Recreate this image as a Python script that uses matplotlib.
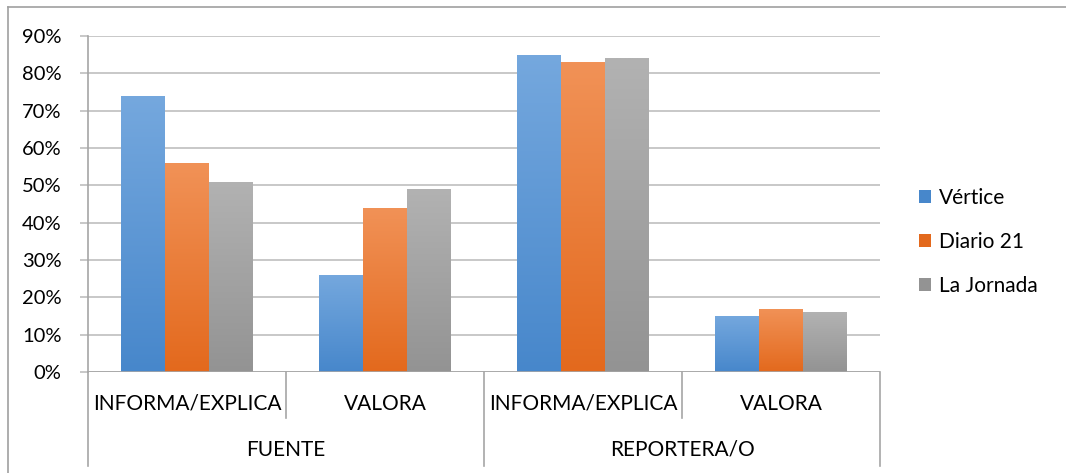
import matplotlib
matplotlib.use('Agg')
import matplotlib.pyplot as plt
import numpy as np
from matplotlib.colors import LinearSegmentedColormap
from matplotlib.patches import Rectangle
from matplotlib.lines import Line2D

# data
subcats = ['INFORMA/EXPLICA', 'VALORA', 'INFORMA/EXPLICA', 'VALORA']
groups = ['FUENTE', 'REPORTERA/O']
series = ['Vértice', 'Diario 21', 'La Jornada']
vertice = [0.74, 0.26, 0.85, 0.15]
diario21 = [0.56, 0.44, 0.83, 0.17]
jornada = [0.51, 0.49, 0.84, 0.16]
yticks = [0, 0.1, 0.2, 0.3, 0.4, 0.5, 0.6, 0.7, 0.8, 0.9]

# gradient colours (top, bottom) per series
grads = [('#75a8de', '#4787cb'), ('#f19257', '#e3691d'), ('#b2b2b2', '#939393')]

plt.rcParams['font.family'] = ['Lato', 'DejaVu Sans']

fig = plt.figure(figsize=(10.66, 4.73), dpi=100)
ax = fig.add_axes([88 / 1066, 101 / 473, 792 / 1066, 336 / 473])

n = len(subcats)
bw = 44 / 198
x = np.arange(n)
values = [vertice, diario21, jornada]

for i, vals in enumerate(values):
    cmap = LinearSegmentedColormap.from_list('g%d' % i, [grads[i][1], grads[i][0]])
    grad = np.linspace(0, 1, 256).reshape(-1, 1)
    for j, v in enumerate(vals):
        left = x[j] + (i - 1.5) * bw
        rect = Rectangle((left, 0), bw, v, facecolor='none', edgecolor='none')
        ax.add_patch(rect)
        im = ax.imshow(grad, cmap=cmap, origin='lower', aspect='auto',
                       extent=(left, left + bw, 0, v), zorder=2)
        im.set_clip_path(rect)

ax.set_xlim(-0.5, n - 0.5)
ax.set_ylim(0, 0.9)
ax.set_yticks(yticks)
ax.set_yticklabels(['%d%%' % round(t * 100) for t in yticks], fontsize=14.5)
ax.yaxis.grid(True, color='#bfbfbf', linewidth=1.2, zorder=0)
ax.set_axisbelow(True)
ax.tick_params(axis='y', length=6, color='#bfbfbf', width=1.2, pad=13)
ax.set_xticks([])

for s in ['top', 'right', 'bottom']:
    ax.spines[s].set_visible(False)
ax.spines['left'].set_color('#a6a6a6')
ax.spines['left'].set_linewidth(1.2)

# category axis lines
ax.axhline(0, color='#a6a6a6', linewidth=1.2, zorder=3)
lc = '#a6a6a6'
for k in range(n + 1):
    bottom = -0.28 if k % 2 == 0 else -0.137
    ax.add_line(Line2D([k - 0.5, k - 0.5], [0, bottom], transform=ax.get_xaxis_transform(),
                       color=lc, linewidth=1.2, clip_on=False))
for j, lab in enumerate(subcats):
    ax.text(j, -0.095, lab, transform=ax.get_xaxis_transform(), ha='center', va='center',
            fontsize=15)
for g, lab in enumerate(groups):
    ax.text(2 * g + 0.5, -0.232, lab, transform=ax.get_xaxis_transform(), ha='center',
            va='center', fontsize=15)

# legend
handles = [Rectangle((0, 0), 1, 1, facecolor=grads[i][1]) for i in range(3)]
leg = fig.legend(handles, series, loc='center left',
                 frameon=False, fontsize=15, handlelength=0.6, handleheight=0.6,
                 labelspacing=1.15, handletextpad=0.35)
leg.set_bbox_to_anchor((900 / 1066, 1 - 242 / 473), transform=fig.transFigure)

# outer frame (top and left only visible)
fig.add_artist(Line2D([8 / 1066, 1], [1 - 7 / 473, 1 - 7 / 473], transform=fig.transFigure,
                      color='#a0a0a0', linewidth=1.2))
fig.add_artist(Line2D([8 / 1066, 8 / 1066], [0, 1 - 7 / 473], transform=fig.transFigure,
                      color='#a0a0a0', linewidth=1.2))

fig.savefig('out.png', dpi=100)
